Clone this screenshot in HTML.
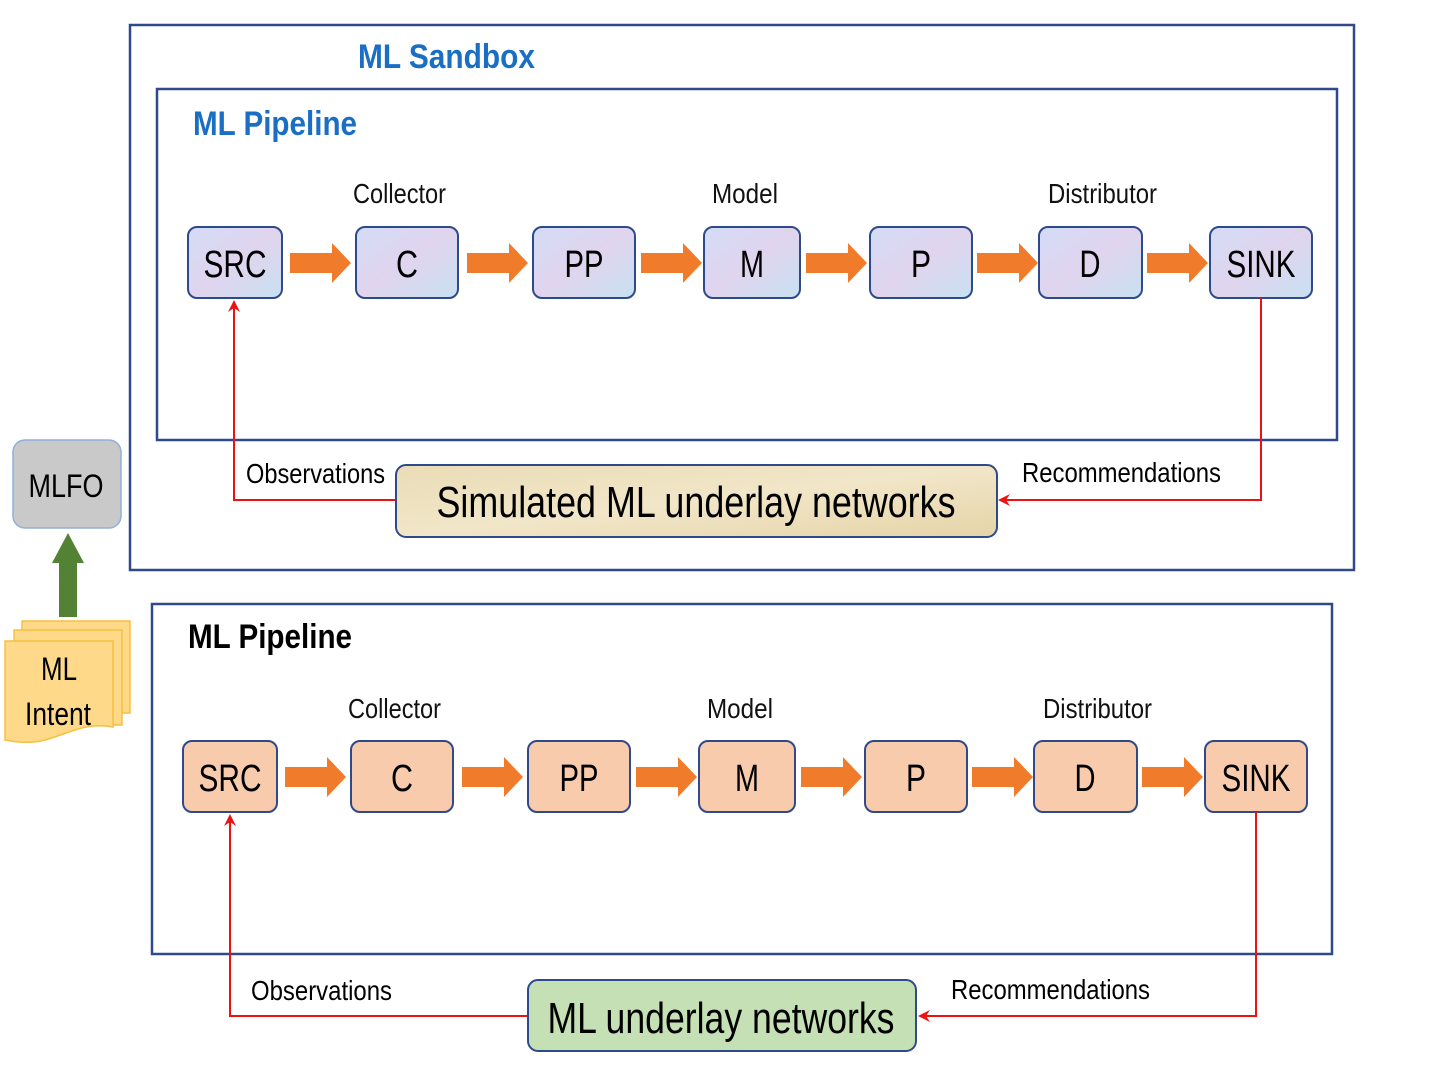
<!DOCTYPE html>
<html><head><meta charset="utf-8"><style>html,body{margin:0;padding:0;background:#fff}svg{display:block}</style></head>
<body>
<svg width="1440" height="1080" viewBox="0 0 1440 1080" xmlns="http://www.w3.org/2000/svg" font-family="Liberation Sans, sans-serif">
<defs>
<linearGradient id="blu" x1="0" y1="0" x2="1" y2="1"><stop offset="0" stop-color="#d4dcf6"/><stop offset="0.5" stop-color="#e0d4ee"/><stop offset="1" stop-color="#c8e0f2"/></linearGradient>
<linearGradient id="tan" x1="0" y1="0" x2="1" y2="1"><stop offset="0" stop-color="#eadcb6"/><stop offset="0.5" stop-color="#f1e6c8"/><stop offset="1" stop-color="#e6d4a8"/></linearGradient>
<marker id="ra" markerWidth="12" markerHeight="12" refX="10" refY="6" orient="auto" markerUnits="userSpaceOnUse"><path d="M0,0 L12,6 L0,12 L4,6 Z" fill="#ee1111"/></marker>
</defs>
<rect x="130" y="25" width="1224" height="545" fill="none" stroke="#2f4a8a" stroke-width="2.5"/>
<text x="358" y="68" font-size="34" font-weight="bold" fill="#1a6fc4" textLength="177" lengthAdjust="spacingAndGlyphs">ML Sandbox</text>
<rect x="157" y="89" width="1180" height="351" fill="none" stroke="#2f4a8a" stroke-width="2.5"/>
<text x="193" y="135" font-size="34" font-weight="bold" fill="#1a6fc4" textLength="164" lengthAdjust="spacingAndGlyphs">ML Pipeline</text>
<g font-size="28" fill="#111">
<text x="353" y="203" textLength="93" lengthAdjust="spacingAndGlyphs">Collector</text>
<text x="712" y="203" textLength="66" lengthAdjust="spacingAndGlyphs">Model</text>
<text x="1048" y="203" textLength="109" lengthAdjust="spacingAndGlyphs">Distributor</text>
</g>
<g stroke="#2f4a8a" stroke-width="2" fill="url(#blu)">
<rect x="188" y="227" width="94" height="71" rx="9"/>
<rect x="356" y="227" width="102" height="71" rx="9"/>
<rect x="533" y="227" width="102" height="71" rx="9"/>
<rect x="704" y="227" width="96" height="71" rx="9"/>
<rect x="870" y="227" width="102" height="71" rx="9"/>
<rect x="1039" y="227" width="103" height="71" rx="9"/>
<rect x="1210" y="227" width="102" height="71" rx="9"/>
</g>
<g font-size="38" fill="#000" text-anchor="middle">
<text x="235" y="277" textLength="63" lengthAdjust="spacingAndGlyphs">SRC</text>
<text x="407" y="277" textLength="22" lengthAdjust="spacingAndGlyphs">C</text>
<text x="584" y="277" textLength="39" lengthAdjust="spacingAndGlyphs">PP</text>
<text x="752" y="277" textLength="24" lengthAdjust="spacingAndGlyphs">M</text>
<text x="921" y="277" textLength="20" lengthAdjust="spacingAndGlyphs">P</text>
<text x="1090" y="277" textLength="21" lengthAdjust="spacingAndGlyphs">D</text>
<text x="1261" y="277" textLength="69" lengthAdjust="spacingAndGlyphs">SINK</text>
</g>
<g fill="#f07b2a">
<path d="M290,253 H332 V243 L351,263 L332,283 V273 H290 Z"/>
<path d="M467,253 H509 V243 L528,263 L509,283 V273 H467 Z"/>
<path d="M641,253 H683 V243 L702,263 L683,283 V273 H641 Z"/>
<path d="M806,253 H848 V243 L867,263 L848,283 V273 H806 Z"/>
<path d="M977,253 H1019 V243 L1038,263 L1019,283 V273 H977 Z"/>
<path d="M1147,253 H1189 V243 L1208,263 L1189,283 V273 H1147 Z"/>
</g>
<g stroke="#ee1111" stroke-width="2" fill="none">
<path d="M1261,298 V500 H1000" marker-end="url(#ra)"/>
<path d="M396,500 H234 V302" marker-end="url(#ra)"/>
</g>
<rect x="396" y="465" width="601" height="72" rx="10" fill="url(#tan)" stroke="#2f4a8a" stroke-width="2"/>
<text x="696" y="517" font-size="44" text-anchor="middle" textLength="519" lengthAdjust="spacingAndGlyphs">Simulated ML underlay networks</text>
<text x="246" y="483" font-size="28" textLength="139" lengthAdjust="spacingAndGlyphs">Observations</text>
<text x="1022" y="482" font-size="28" textLength="199" lengthAdjust="spacingAndGlyphs">Recommendations</text>

<rect x="152" y="604" width="1180" height="350" fill="none" stroke="#2f4a8a" stroke-width="2.5"/>
<text x="188" y="648" font-size="34" font-weight="bold" fill="#000" textLength="164" lengthAdjust="spacingAndGlyphs">ML Pipeline</text>
<g font-size="28" fill="#111">
<text x="348" y="718" textLength="93" lengthAdjust="spacingAndGlyphs">Collector</text>
<text x="707" y="718" textLength="66" lengthAdjust="spacingAndGlyphs">Model</text>
<text x="1043" y="718" textLength="109" lengthAdjust="spacingAndGlyphs">Distributor</text>
</g>
<g stroke="#2f4a8a" stroke-width="2" fill="#f8cbad">
<rect x="183" y="741" width="94" height="71" rx="9"/>
<rect x="351" y="741" width="102" height="71" rx="9"/>
<rect x="528" y="741" width="102" height="71" rx="9"/>
<rect x="699" y="741" width="96" height="71" rx="9"/>
<rect x="865" y="741" width="102" height="71" rx="9"/>
<rect x="1034" y="741" width="103" height="71" rx="9"/>
<rect x="1205" y="741" width="102" height="71" rx="9"/>
</g>
<g font-size="38" fill="#000" text-anchor="middle">
<text x="230" y="791" textLength="63" lengthAdjust="spacingAndGlyphs">SRC</text>
<text x="402" y="791" textLength="22" lengthAdjust="spacingAndGlyphs">C</text>
<text x="579" y="791" textLength="39" lengthAdjust="spacingAndGlyphs">PP</text>
<text x="747" y="791" textLength="24" lengthAdjust="spacingAndGlyphs">M</text>
<text x="916" y="791" textLength="20" lengthAdjust="spacingAndGlyphs">P</text>
<text x="1085" y="791" textLength="21" lengthAdjust="spacingAndGlyphs">D</text>
<text x="1256" y="791" textLength="69" lengthAdjust="spacingAndGlyphs">SINK</text>
</g>
<g fill="#f07b2a">
<path d="M285,767 H327 V757 L346,777 L327,797 V787 H285 Z"/>
<path d="M462,767 H504 V757 L523,777 L504,797 V787 H462 Z"/>
<path d="M636,767 H678 V757 L697,777 L678,797 V787 H636 Z"/>
<path d="M801,767 H843 V757 L862,777 L843,797 V787 H801 Z"/>
<path d="M972,767 H1014 V757 L1033,777 L1014,797 V787 H972 Z"/>
<path d="M1142,767 H1184 V757 L1203,777 L1184,797 V787 H1142 Z"/>
</g>
<g stroke="#ee1111" stroke-width="2" fill="none">
<path d="M1256,812 V1016 H920" marker-end="url(#ra)"/>
<path d="M528,1016 H230 V816" marker-end="url(#ra)"/>
</g>
<rect x="528" y="980" width="388" height="71" rx="10" fill="#c5e0b4" stroke="#2f4a8a" stroke-width="2"/>
<text x="721" y="1033" font-size="44" text-anchor="middle" textLength="347" lengthAdjust="spacingAndGlyphs">ML underlay networks</text>
<text x="251" y="1000" font-size="28" textLength="141" lengthAdjust="spacingAndGlyphs">Observations</text>
<text x="951" y="999" font-size="28" textLength="199" lengthAdjust="spacingAndGlyphs">Recommendations</text>

<rect x="13" y="440" width="108" height="88" rx="12" fill="#c9c9c9" stroke="#8fb0d8" stroke-width="1.5"/>
<text x="66" y="497" font-size="32" text-anchor="middle" textLength="75" lengthAdjust="spacingAndGlyphs">MLFO</text>
<path d="M59,617 V563 H52 L68,533 L84,563 H77 V617 Z" fill="#548235"/>
<g fill="#ffd98a" stroke="#f5c040" stroke-width="1.5">
<rect x="22" y="621" width="108" height="92"/>
<rect x="14" y="630" width="108" height="95"/>
<path d="M5,641 H113 V727 C85,722 70,733 45,740 C30,744 15,742 5,740 Z"/>
</g>
<text x="59" y="680" font-size="32" text-anchor="middle" textLength="36" lengthAdjust="spacingAndGlyphs">ML</text>
<text x="58" y="725" font-size="32" text-anchor="middle" textLength="66" lengthAdjust="spacingAndGlyphs">Intent</text>
</svg>
</body></html>
